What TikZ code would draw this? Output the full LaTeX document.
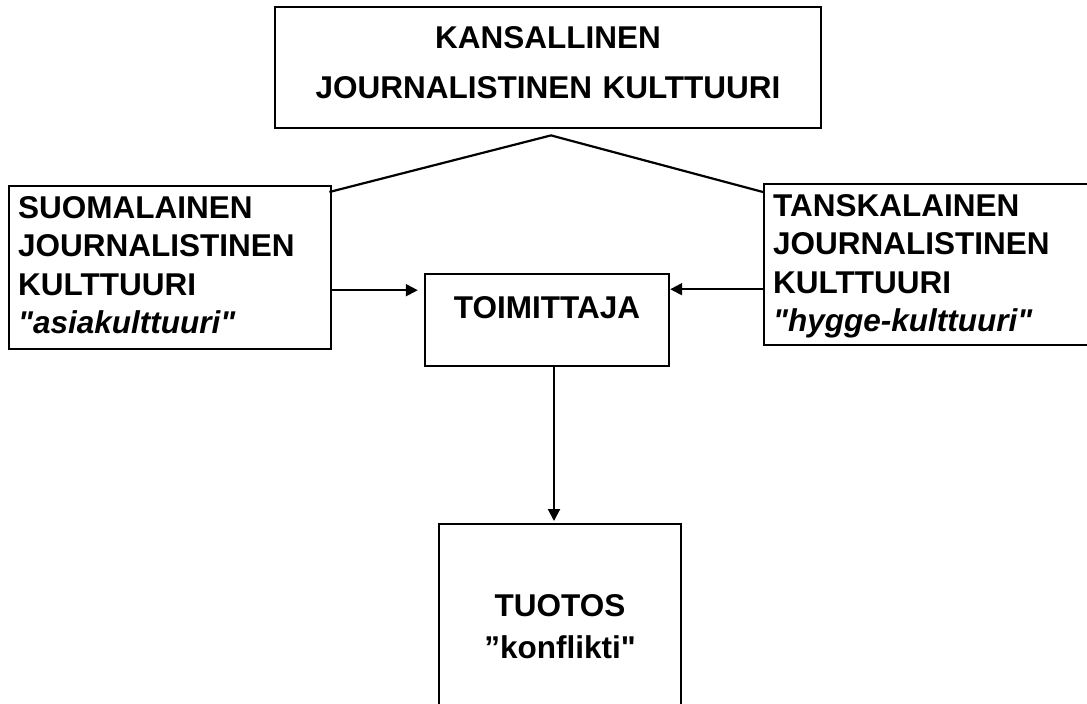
\documentclass[tikz,border=0pt]{standalone}
\usepackage{fontspec}
\setmainfont{Liberation Sans}[Ligatures=TeXOff]
\usetikzlibrary{arrows.meta}

\newcommand{\upstrut}[1]{\rule{0pt}{#1}}
\newcommand{\downstrut}[1]{\rule[-#1]{0pt}{#1}}

\begin{document}
\begin{tikzpicture}[x=1pt, y=-1pt,
        every node/.style={font=\bfseries},
        box/.style={draw, line width=2.4pt, inner xsep=0pt, inner ysep=0pt, anchor=north},
        side/.style={box, anchor=north west, inner xsep=9pt, text width=304pt, align=left,
            font=\bfseries\fontsize{31.5}{38.5}\selectfont},
        arr/.style={-{Triangle[length=12pt,width=12pt]}, line width=2pt},
        roof/.style={line width=2.2pt}]
            \useasboundingbox (0,0) rectangle (1087,704);
            \clip (0,0) rectangle (1087,704);
            \node[box, text width=546pt, align=center, font=\bfseries\fontsize{31.5}{50}\selectfont]
                (kans) at (548,6) {\upstrut{41pt}KANSALLINEN\\ JOURNALISTINEN KULTTUURI\downstrut{30pt}};
            \node[side] (suomi) at (8,185)
                {\upstrut{32pt}SUOMALAINEN\\ JOURNALISTINEN\\ KULTTUURI\\ \textit{"asiakulttuuri"}\downstrut{15pt}};
            \node[side, text width=322pt] (tanska) at (763,183)
                {\upstrut{32pt}TANSKALAINEN\\ JOURNALISTINEN\\ KULTTUURI\\ \textit{"hygge-kulttuuri"}\downstrut{13pt}};
            \node[box, text width=244pt, align=center, font=\bfseries\fontsize{31.5}{40}\selectfont]
                (toim) at (547,273) {\upstrut{44pt}TOIMITTAJA\downstrut{48pt}};
            \node[box, text width=242pt, align=center, font=\bfseries\fontsize{31.5}{42}\selectfont]
                (tuotos) at (560,523) {\upstrut{92pt}TUOTOS\\ ”konflikti"\downstrut{70pt}};
            % katto
            \draw[roof] ([xshift=-3pt,yshift=-7pt]suomi.north east) -- ([xshift=3pt,yshift=-6pt]kans.south)
                -- ([yshift=-9pt]tanska.north west);
            % nuolet
            \coordinate (inL) at ([yshift=30pt]toim.west);
            \coordinate (inR) at ([yshift=31pt]toim.east);
            \draw[arr, shorten >=6pt] (suomi.east |- inL) -- (inL);
            \draw[arr] (tanska.west |- inR) -- (inR);
            \draw[arr, shorten >=2pt] ([xshift=7pt]toim.south) -- ([xshift=7pt]toim.south |- tuotos.north);
        \end{tikzpicture}
\end{document}
